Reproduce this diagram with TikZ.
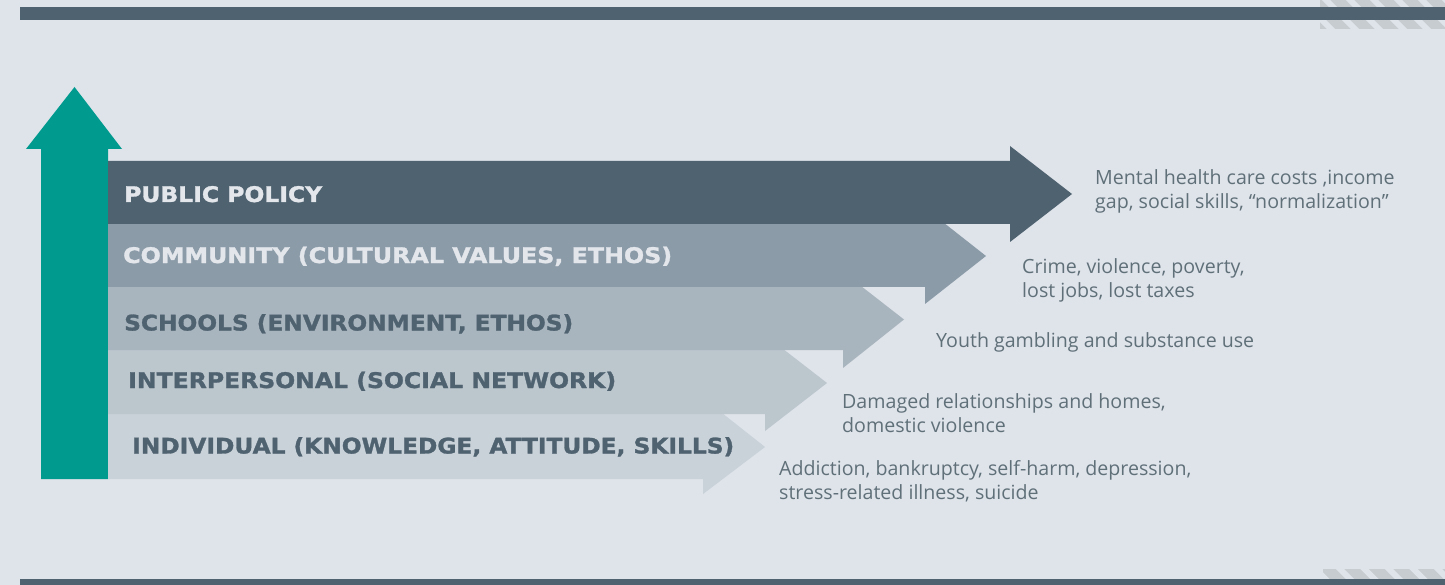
\documentclass[tikz,border=0pt]{standalone}
\usepackage{fontspec}
\usepackage{graphicx}
\newfontfamily\lblfont{DejaVu Sans}[BoldFeatures={FakeBold=1.3}]
\newfontfamily\txtfont{Open Sans}
\definecolor{bgc}{HTML}{DFE3EA}
\definecolor{darkc}{HTML}{4F6270}
\definecolor{commc}{HTML}{8B9BA8}
\definecolor{schc}{HTML}{A9B5BE}
\definecolor{interc}{HTML}{BCC6CD}
\definecolor{indc}{HTML}{C9D2D9}
\definecolor{tealc}{HTML}{009A8E}
\definecolor{lighttxt}{HTML}{E3E7EC}
\definecolor{notec}{HTML}{607079}
\definecolor{hatchc}{HTML}{C7CCD1}
\newcommand\fitlbl[2]{\resizebox{#1pt}{\height}{#2}}
\tikzset{
  band/.style={fill=#1, draw=none},
  lbl/.style={anchor=base west, inner sep=0pt, font=\lblfont\bfseries\fontsize{21.5}{24}\selectfont},
  note/.style={anchor=base west, inner sep=0pt, text=notec, font=\txtfont\fontsize{19.6}{24}\selectfont},
  gapline/.style={draw=bgc, line width=5.7pt},
}
\begin{document}
\begin{tikzpicture}[x=1pt,y=-1pt]
\useasboundingbox (0,0) rectangle (1445,585);
\fill[bgc] (0,0) rectangle (1445,585);
% top hatch and bar
\begin{scope}
  \clip (1320,0) rectangle (1445,29);
  \fill[hatchc] (1320,0) rectangle (1445,29);
  \foreach \k in {-2,...,6} \draw[gapline] (1316+\k*24,-10) -- ++(50,50);
\end{scope}
\fill[darkc] (20,6.7) rectangle (1445,20);
% bottom hatch and bar
\begin{scope}
  \clip (1323,569) rectangle (1445,579);
  \fill[hatchc] (1323,569) rectangle (1445,579);
  \foreach \k in {-2,...,6} \draw[gapline] (1330+\k*24.5,559) -- ++(30,30);
\end{scope}
\fill[darkc] (20,579) rectangle (1445,585);
% teal arrow
\fill[tealc] (41,479) -- (41,149) -- (26,149) -- (74.5,87) -- (122,149) -- (108,149) -- (108,479) -- cycle;
% bands (bottom first)
\fill[band=indc] (108,414) -- (703,414) -- (703,398) -- (765,447) -- (703,494) -- (703,479) -- (108,479) -- cycle;
\fill[band=interc] (108,350) -- (765,350) -- (765,335) -- (827,383) -- (765,431) -- (765,414) -- (108,414) -- cycle;
\fill[band=schc] (108,287) -- (843,287) -- (843,272) -- (904,319.5) -- (843,368) -- (843,350) -- (108,350) -- cycle;
\fill[band=commc] (108,224) -- (925,224) -- (925,208) -- (986,256) -- (925,304) -- (925,287) -- (108,287) -- cycle;
\fill[band=darkc] (108,161) -- (1010,161) -- (1010,146) -- (1072,194) -- (1010,242) -- (1010,224) -- (108,224) -- cycle;
% labels
\node[lbl, text=lighttxt] (lpp) at (124,202) {\fitlbl{198}{PUBLIC POLICY}};
\node[lbl, text=lighttxt] (lcomm) at (123,263) {\fitlbl{549}{COMMUNITY (CULTURAL VALUES, ETHOS)}};
\node[lbl, text=darkc] (lsch) at (124,330.5) {\fitlbl{449}{SCHOOLS (ENVIRONMENT, ETHOS)}};
\node[lbl, text=darkc] (lint) at (128,388) {\fitlbl{488}{INTERPERSONAL (SOCIAL NETWORK)}};
\node[lbl, text=darkc] (lind) at (132,453.5) {\fitlbl{602}{INDIVIDUAL (KNOWLEDGE, ATTITUDE, SKILLS)}};
% outcome notes
\node[note] (npp) at (1095,185) {\begin{tabular}[t]{@{}l@{}}Mental health care costs ,income\\gap, social skills, “normalization”\end{tabular}};
\node[note] (ncomm) at (1022,274) {\begin{tabular}[t]{@{}l@{}}Crime, violence, poverty,\\lost jobs, lost taxes\end{tabular}};
\node[note] (nsch) at (936,347) {Youth gambling and substance use};
\node[note] (nint) at (842,408) {\begin{tabular}[t]{@{}l@{}}Damaged relationships and homes,\\domestic violence\end{tabular}};
\node[note] (nind) at (779,475) {\begin{tabular}[t]{@{}l@{}}Addiction, bankruptcy, self-harm, depression,\\stress-related illness, suicide\end{tabular}};
\end{tikzpicture}
\end{document}
